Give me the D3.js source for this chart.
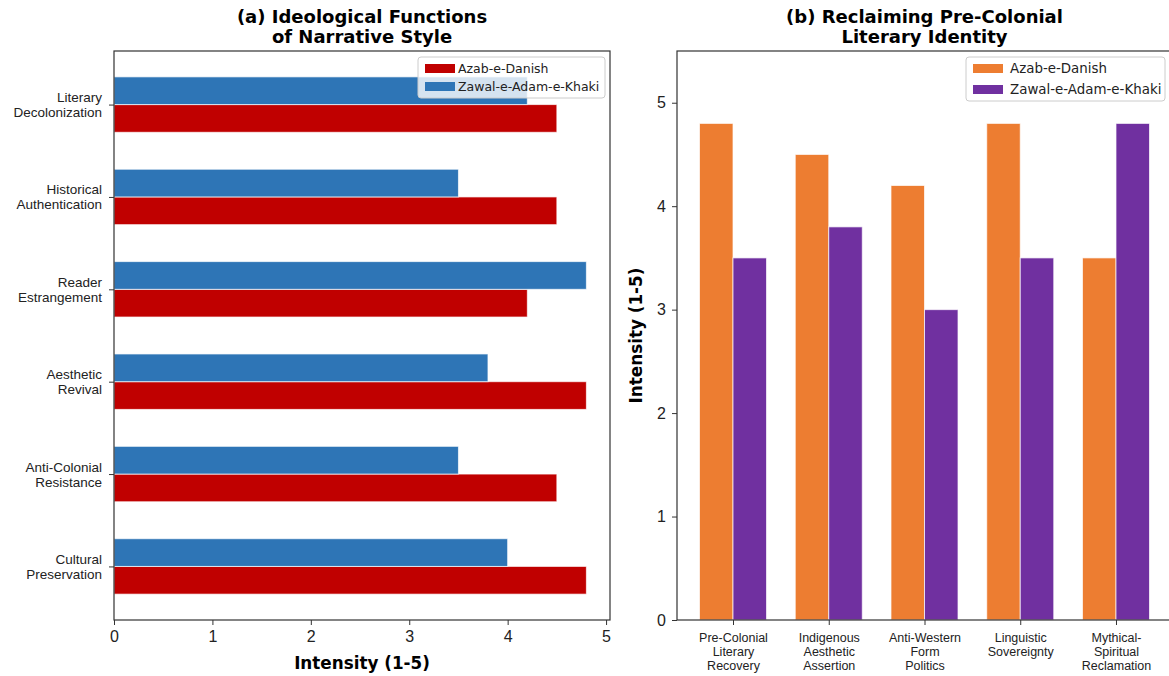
<!DOCTYPE html>
<html>
<head>
<meta charset="utf-8">
<script src="https://cdn.jsdelivr.net/npm/d3@7"></script>
<style>
  body { margin: 0; background: #fff; }
  svg { font-family: "DejaVu Sans", sans-serif; display: block; }
  .domain { display: none; }
</style>
</head>
<body>
<div id="chart"></div>
<script>
(function(){
var W = 1169, H = 676;

// panel (a)
var leftCats = [["Cultural", "Preservation"], ["Anti-Colonial", "Resistance"], ["Aesthetic", "Revival"],
                ["Reader", "Estrangement"], ["Historical", "Authentication"], ["Literary", "Decolonization"]];
var leftAzab = [4.8, 4.5, 4.8, 4.2, 4.5, 4.5];
var leftZawal = [4.0, 3.5, 3.8, 4.8, 3.5, 4.2];
var xTicksA = [0, 1, 2, 3, 4, 5];

// panel (b)
var rightCats = [["Pre-Colonial", "Literary", "Recovery"], ["Indigenous", "Aesthetic", "Assertion"],
                 ["Anti-Western", "Form", "Politics"], ["Linguistic", "Sovereignty"],
                 ["Mythical-", "Spiritual", "Reclamation"]];
var rightAzab = [4.8, 4.5, 4.2, 4.8, 3.5];
var rightZawal = [3.5, 3.8, 3.0, 3.5, 4.8];
var yTicksB = [0, 1, 2, 3, 4, 5];

var seriesNames = ["Azab-e-Danish", "Zawal-e-Adam-e-Khaki"];

var svg = d3.select("#chart").append("svg")
  .attr("width", W).attr("height", H);

var spine = "#333";

// ---------- panel (a): horizontal bars ----------
var a = {left: 114, right: 610, top: 51, bottom: 620};
var bw = 0.3;
var xA = d3.scaleLinear().domain([0, 5.04]).range([a.left, a.right]);
var yA = d3.scaleLinear().domain([-0.58, leftCats.length - 1 + 0.58]).range([a.bottom, a.top]);

var gA = svg.append("g");

function hbars(vals, off, color){
  gA.selectAll(null).data(vals).enter().append("rect")
    .attr("x", xA(0))
    .attr("y", function(d, i){ return yA(i + off + bw/2); })
    .attr("width", function(d){ return xA(d) - xA(0); })
    .attr("height", yA(0) - yA(bw))
    .attr("fill", color)
    .attr("stroke", "#fff").attr("stroke-opacity", 0.7).attr("stroke-width", 1);
}
hbars(leftAzab, -bw/2, "#c00000");
hbars(leftZawal, bw/2, "#2e75b6");

gA.append("rect").attr("x", a.left).attr("y", a.top)
  .attr("width", a.right - a.left).attr("height", a.bottom - a.top)
  .attr("fill", "none").attr("stroke", spine).attr("stroke-width", 1.2);

var axA = gA.append("g").attr("transform", "translate(0," + a.bottom + ")")
  .call(d3.axisBottom(xA).tickValues(xTicksA).tickSize(5).tickFormat(d3.format("d")));
axA.selectAll("line").attr("stroke", spine);
axA.selectAll("text").attr("font-size", 16).attr("fill", "#222").attr("dy", "0.9em");

var ayA = gA.append("g").attr("transform", "translate(" + a.left + ",0)")
  .call(d3.axisLeft(yA).tickValues(d3.range(leftCats.length)).tickSize(5).tickFormat(""));
ayA.selectAll("line").attr("stroke", spine);
ayA.selectAll(".tick").each(function(d){
  var t = d3.select(this).append("text")
    .attr("x", -12).attr("text-anchor", "end")
    .attr("font-size", 13.5).attr("fill", "#222");
  var lines = leftCats[d];
  lines.forEach(function(s, k){
    t.append("tspan").attr("x", -12)
      .attr("y", (k - (lines.length - 1)/2) * 15 + 4.5)
      .text(s);
  });
});

gA.append("text").attr("x", (a.left + a.right)/2).attr("y", 669)
  .attr("text-anchor", "middle").attr("font-size", 16.8).attr("font-weight", "bold")
  .text("Intensity (1-5)");

gA.append("text").attr("x", (a.left + a.right)/2).attr("y", 23)
  .attr("text-anchor", "middle").attr("font-size", 18).attr("font-weight", "bold")
  .selectAll("tspan").data(["(a) Ideological Functions", "of Narrative Style"]).enter()
  .append("tspan").attr("x", (a.left + a.right)/2).attr("dy", function(d, i){ return i ? 20 : 0; })
  .text(function(d){ return d; });

function legend(g, x, y, w, h, colors, fs, gap, tx){
  g.append("rect").attr("x", x).attr("y", y).attr("width", w).attr("height", h)
    .attr("rx", 3).attr("fill", "#fff").attr("fill-opacity", 0.8)
    .attr("stroke", "#ccc").attr("stroke-width", 1);
  seriesNames.forEach(function(n, i){
    var cy = y + 11 + i * gap;
    g.append("rect").attr("x", x + 7).attr("y", cy - 4).attr("width", 30).attr("height", 9)
      .attr("fill", colors[i]);
    g.append("text").attr("x", x + tx).attr("y", cy + 4.5)
      .attr("font-size", fs).attr("fill", "#222").text(n);
  });
}
legend(gA, 418, 57, 187, 41, ["#c00000", "#2e75b6"], 12.5, 18, 40);

// ---------- panel (b): vertical bars ----------
var b = {left: 677, right: 1172, top: 51, bottom: 620};
var bw2 = 0.35;
var xB = d3.scaleLinear().domain([-0.585, rightCats.length - 1 + 0.585]).range([b.left, b.right]);
var yB = d3.scaleLinear().domain([0, 5.5]).range([b.bottom, b.top]);

var gB = svg.append("g");

function vbars(vals, off, color){
  gB.selectAll(null).data(vals).enter().append("rect")
    .attr("x", function(d, i){ return xB(i + off - bw2/2); })
    .attr("y", function(d){ return yB(d); })
    .attr("width", xB(bw2) - xB(0))
    .attr("height", function(d){ return yB(0) - yB(d); })
    .attr("fill", color)
    .attr("stroke", "#fff").attr("stroke-opacity", 0.7).attr("stroke-width", 1);
}
vbars(rightAzab, -bw2/2, "#ed7d31");
vbars(rightZawal, bw2/2, "#7030a0");

gB.append("rect").attr("x", b.left).attr("y", b.top)
  .attr("width", b.right - b.left).attr("height", b.bottom - b.top)
  .attr("fill", "none").attr("stroke", spine).attr("stroke-width", 1.2);

var ayB = gB.append("g").attr("transform", "translate(" + b.left + ",0)")
  .call(d3.axisLeft(yB).tickValues(yTicksB).tickSize(5).tickFormat(d3.format("d")));
ayB.selectAll("line").attr("stroke", spine);
ayB.selectAll("text").attr("font-size", 16).attr("fill", "#222").attr("x", -11);

var axB = gB.append("g").attr("transform", "translate(0," + b.bottom + ")")
  .call(d3.axisBottom(xB).tickValues(d3.range(rightCats.length)).tickSize(5).tickFormat(""));
axB.selectAll("line").attr("stroke", spine);
axB.selectAll(".tick").each(function(d){
  var t = d3.select(this).append("text").attr("text-anchor", "middle")
    .attr("font-size", 12.5).attr("fill", "#222");
  rightCats[d].forEach(function(s, k){
    t.append("tspan").attr("x", 0).attr("y", 22 + k * 14).text(s);
  });
});

gB.append("text")
  .attr("transform", "translate(642," + (b.top + b.bottom)/2 + ") rotate(-90)")
  .attr("text-anchor", "middle").attr("font-size", 16.8).attr("font-weight", "bold")
  .text("Intensity (1-5)");

gB.append("text").attr("x", (b.left + b.right)/2).attr("y", 23)
  .attr("text-anchor", "middle").attr("font-size", 18).attr("font-weight", "bold")
  .selectAll("tspan").data(["(b) Reclaiming Pre-Colonial", "Literary Identity"]).enter()
  .append("tspan").attr("x", (b.left + b.right)/2).attr("dy", function(d, i){ return i ? 20 : 0; })
  .text(function(d){ return d; });

legend(gB, 966, 57, 199, 44, ["#ed7d31", "#7030a0"], 13.4, 21, 44);

})();
</script>
</body>
</html>
